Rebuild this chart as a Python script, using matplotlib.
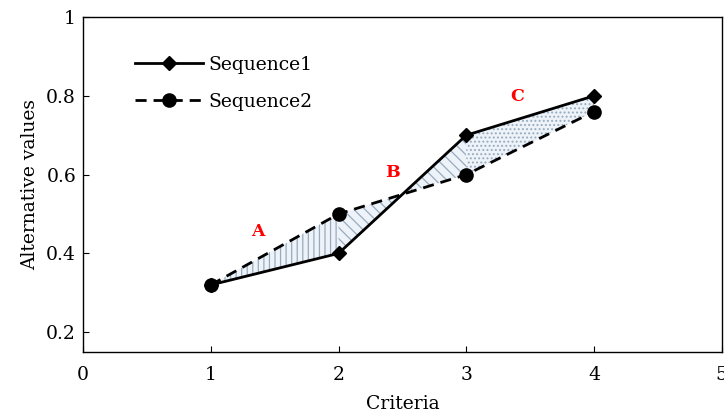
import matplotlib
matplotlib.use("Agg")
import matplotlib.pyplot as plt
import numpy as np

criteria = [1, 2, 3, 4]
seq1 = [0.32, 0.40, 0.70, 0.80]
seq2 = [0.32, 0.50, 0.60, 0.76]
region_labels = ["A", "B", "C"]
region_label_pos = [(1.37, 0.455), (2.42, 0.605), (3.40, 0.797)]
region_hatches = ["|||", "\\\\\\", "...."]

plt.rcParams['font.family'] = ['DejaVu Serif']
plt.rcParams['hatch.linewidth'] = 0.9

fig = plt.figure(figsize=(7.24, 4.15), dpi=100)
ax = fig.add_axes([0.1146, 0.152, 0.8824, 0.807])

x = np.array(criteria, dtype=float)
y1 = np.array(seq1)
y2 = np.array(seq2)
for i in range(3):
    xs = np.linspace(x[i], x[i + 1], 50)
    a = np.interp(xs, x, y1)
    b = np.interp(xs, x, y2)
    ax.fill_between(xs, a, b, facecolor='#edf3f8', edgecolor='#98abbe',
                    hatch=region_hatches[i], linewidth=0)

ax.plot(criteria, seq1, '-', color='black', lw=2.0, marker='D', ms=7.5,
        label='Sequence1')
ax.plot(criteria, seq2, '--', color='black', lw=2.0, marker='o', ms=9.5,
        dashes=(4, 2.5), label='Sequence2')

for lab, (px, py) in zip(region_labels, region_label_pos):
    ax.text(px, py, lab, color='red', fontweight='bold', fontsize=12.5,
            ha='center', va='center')

ax.set_xlim(0, 5)
ax.set_ylim(0.15, 1.0)
ax.set_xticks([0, 1, 2, 3, 4, 5])
ax.set_xticklabels(['0', '1', '2', '3', '4', '5'])
ax.set_yticks([0.2, 0.4, 0.6, 0.8, 1.0])
ax.set_yticklabels(['0.2', '0.4', '0.6', '0.8', '1'])
ax.tick_params(direction='in', length=4, labelsize=13.5, width=0.8)
ax.tick_params(axis='y', pad=5)
ax.tick_params(axis='x', pad=10)
ax.set_xlabel('Criteria', fontsize=13.5, labelpad=8)
ax.set_ylabel('Alternative values', fontsize=13.5, labelpad=5)
for s in ax.spines.values():
    s.set_linewidth(1.0)

ax.legend(loc='upper left', frameon=False, fontsize=13.5, handlelength=3.6,
          bbox_to_anchor=(0.07, 0.906), handletextpad=0.32, labelspacing=1.0,
          borderaxespad=0)

fig.savefig('out.png', dpi=100)
